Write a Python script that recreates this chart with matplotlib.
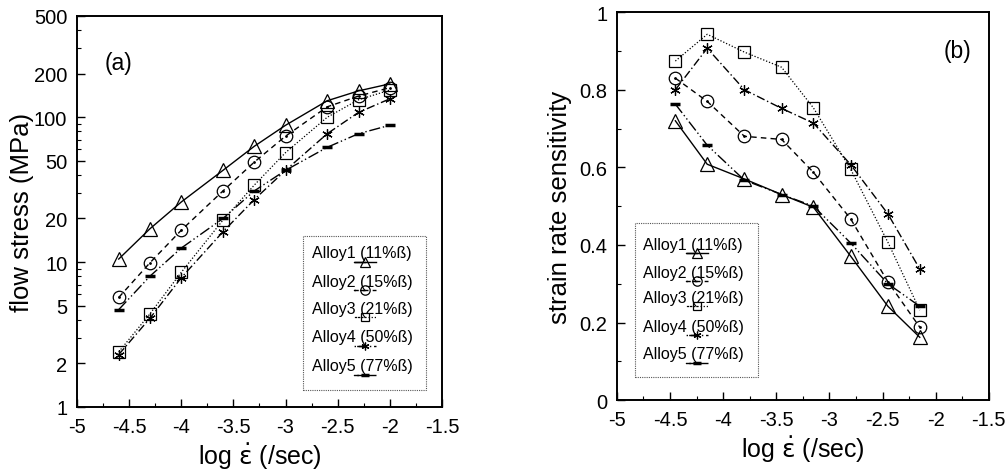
import matplotlib
matplotlib.use('Agg')
import matplotlib.pyplot as plt
from matplotlib.ticker import LogLocator, FixedLocator, FixedFormatter, MultipleLocator, NullFormatter
from matplotlib.lines import Line2D
from matplotlib.patches import Rectangle

plt.rcParams['font.family'] = ['Liberation Sans', 'DejaVu Sans']

# log strain rate (/sec)
rate_a = [-4.6, -4.3, -4.0, -3.6, -3.3, -3.0, -2.6, -2.3, -2.0]
rate_b = [-4.45, -4.15, -3.8, -3.45, -3.15, -2.8, -2.45, -2.15]

labels = ['Alloy1 (11%ß)', 'Alloy2 (15%ß)', 'Alloy3 (21%ß)', 'Alloy4 (50%ß)', 'Alloy5 (77%ß)']

# flow stress (MPa)
stress1 = [10.5, 17, 26, 43, 63, 88, 130, 152, 170]
stress2 = [5.7, 9.9, 16.6, 31, 49, 74, 118, 140, 160]
stress3 = [2.4, 4.4, 8.5, 19.5, 34, 57, 100, 132, 154]
stress4 = [2.3, 4.1, 7.8, 16.2, 27, 43, 77, 108, 134]
stress5 = [4.7, 8.0, 12.5, 20, 31, 43, 62, 77, 88]

# strain rate sensitivity
m1 = [0.72, 0.608, 0.57, 0.53, 0.497, 0.371, 0.242, 0.162]
m2 = [0.83, 0.77, 0.68, 0.672, 0.587, 0.467, 0.305, 0.188]
m3 = [0.874, 0.943, 0.897, 0.858, 0.753, 0.595, 0.407, 0.232]
m4 = [0.80, 0.907, 0.80, 0.752, 0.714, 0.607, 0.48, 0.338]
m5 = [0.763, 0.657, 0.567, 0.53, 0.50, 0.405, 0.30, 0.242]

styles = [
    dict(ls='-', marker='^', ms=10, mfc='none', mew=0.9, lw=1.0),
    dict(ls=(0, (4, 3)), marker='o', ms=9, mfc='none', mew=0.9, lw=1.0),
    dict(ls=(0, (1, 1.5)), marker='s', ms=8, mfc='none', mew=0.9, lw=0.9),
    dict(ls=(0, (6, 2, 1, 2)), marker=(6, 2, 0), ms=7.5, mew=0.9, lw=1.0),
    dict(ls=(0, (8, 2, 1, 2, 1, 2)), marker='_', ms=7, mew=2.5, lw=1.0),
]

fig = plt.figure(figsize=(10.08, 4.77), dpi=100)
ax1 = fig.add_axes([0.0764, 0.1447, 0.362, 0.8197])
ax2 = fig.add_axes([0.612, 0.159, 0.369, 0.8134])


def manual_legend(ax, x0, y0, x1, y1, tx, ys, sx):
    ax.add_patch(Rectangle((x0, y0), x1 - x0, y1 - y0, transform=ax.transAxes,
                           fill=False, ls=(0, (1, 1)), lw=0.8, ec='#555555', zorder=5))
    for lab, st, yy in zip(labels, styles, ys):
        ax.text(tx, yy, lab, transform=ax.transAxes, fontsize=11.5, va='center', ha='left', zorder=6)
        kw = {k: v for k, v in st.items() if k != 'ms'}
        ln = Line2D([sx, sx - 0.03, sx + 0.03], [yy - 0.022] * 3, transform=ax.transAxes,
                    color='black', ms=st['ms'] * 0.75, markevery=[0], zorder=6, **kw)
        ax.add_line(ln)


def centre_dots(ax, x, y):
    ax.plot(x, y, ls='none', marker='.', ms=2, color='black')


for y, st in zip([stress1, stress2, stress3, stress4, stress5], styles):
    ax1.plot(rate_a, y, color='black', **st)
centre_dots(ax1, rate_a, stress2)
ax1.set_yscale('log')
ax1.set_xlim(-5, -1.5)
ax1.set_ylim(1, 500)
ax1.yaxis.set_major_locator(FixedLocator([1, 2, 5, 10, 20, 50, 100, 200, 500]))
ax1.yaxis.set_major_formatter(FixedFormatter(['1', '2', '5', '10', '20', '50', '100', '200', '500']))
ax1.yaxis.set_minor_locator(LogLocator(base=10, subs=[3, 4, 6, 7, 8, 9]))
ax1.yaxis.set_minor_formatter(NullFormatter())
ax1.set_xticks([-5, -4.5, -4, -3.5, -3, -2.5, -2, -1.5])
ax1.set_xticklabels(['-5', '-4.5', '-4', '-3.5', '-3', '-2.5', '-2', '-1.5'])
ax1.xaxis.set_minor_locator(MultipleLocator(0.25))
ax1.set_ylabel('flow stress (MPa)', fontsize=18.5, labelpad=0)
ax1.set_xlabel(r'log $\dot{\mathrm{\epsilon}}$ (/sec)', fontsize=18, labelpad=3)
ax1.text(0.077, 0.88, '(a)', transform=ax1.transAxes, fontsize=16.5, va='center')
manual_legend(ax1, 0.619, 0.043, 0.956, 0.437, 0.644,
              [0.394, 0.320, 0.251, 0.179, 0.105], 0.79)

for y, st in zip([m1, m2, m3, m4, m5], styles):
    ax2.plot(rate_b, y, color='black', **st)
centre_dots(ax2, rate_b, m2)
ax2.set_xlim(-5, -1.5)
ax2.set_ylim(0, 1)
ax2.set_yticks([0, 0.2, 0.4, 0.6, 0.8, 1])
ax2.set_yticklabels(['0', '0.2', '0.4', '0.6', '0.8', '1'])
ax2.yaxis.set_minor_locator(MultipleLocator(0.1))
ax2.set_xticks([-5, -4.5, -4, -3.5, -3, -2.5, -2, -1.5])
ax2.set_xticklabels(['-5', '-4.5', '-4', '-3.5', '-3', '-2.5', '-2', '-1.5'])
ax2.xaxis.set_minor_locator(MultipleLocator(0.25))
ax2.set_ylabel('strain rate sensitivity', fontsize=18.5, labelpad=5)
ax2.set_xlabel(r'log $\dot{\mathrm{\epsilon}}$ (/sec)', fontsize=18, labelpad=3)
ax2.text(0.954, 0.90, '(b)', transform=ax2.transAxes, fontsize=16.5, va='center', ha='right')
manual_legend(ax2, 0.048, 0.059, 0.379, 0.456, 0.07,
              [0.402, 0.330, 0.265, 0.191, 0.119], 0.215)

for ax in (ax1, ax2):
    for sp in ax.spines.values():
        sp.set_linewidth(1.4)
    ax.tick_params(which='both', direction='in', labelsize=14.5, top=False, right=False)
    ax.tick_params(which='major', length=6, width=1.0, pad=7)
    ax.tick_params(which='minor', length=3, width=0.8)

fig.savefig('out.png', dpi=100)
